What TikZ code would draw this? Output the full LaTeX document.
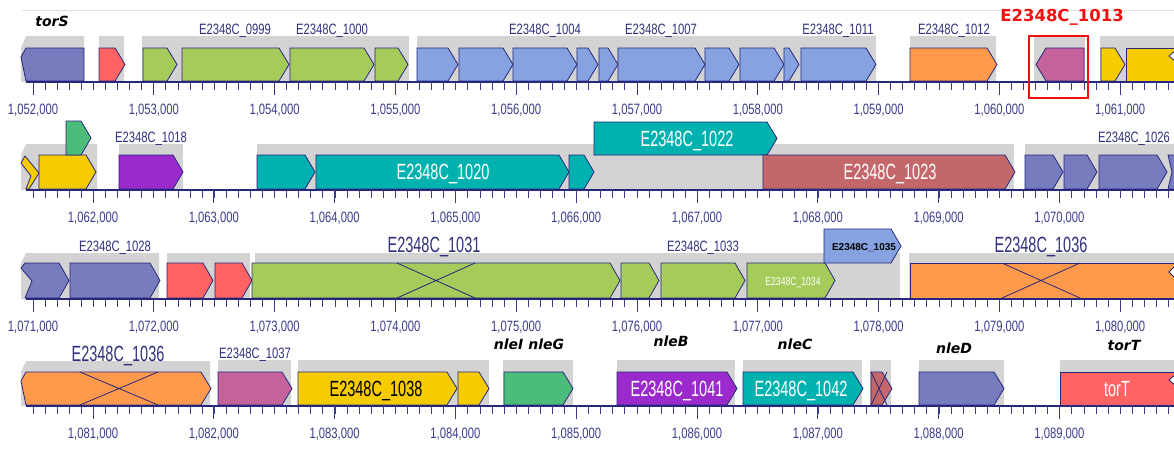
\documentclass[tikz,border=0pt]{standalone}
\usepackage{fontspec}
\setmainfont{Liberation Sans}
\newfontfamily\narrowsf[FakeStretch=0.75]{Liberation Sans}
\newfontfamily\condsf[FakeStretch=0.66]{Liberation Sans}
\newfontfamily\tagsf{DejaVu Sans}

\definecolor{navy}{HTML}{26267A}
\definecolor{labelblue}{HTML}{30307E}
\definecolor{tickblue}{HTML}{3B3B8C}
\definecolor{bandgray}{HTML}{D3D3D3}
\definecolor{slate}{HTML}{777CBE}
\definecolor{redg}{HTML}{FF6262}
\definecolor{lgreen}{HTML}{A5CB5A}
\definecolor{cblue}{HTML}{86A2E0}
\definecolor{orangeg}{HTML}{FF9A4C}
\definecolor{mauve}{HTML}{C4629B}
\definecolor{yellowg}{HTML}{F6CB00}
\definecolor{mgreen}{HTML}{4CBC7B}
\definecolor{purpleg}{HTML}{9A2ACB}
\definecolor{tealg}{HTML}{00B2AF}
\definecolor{brick}{HTML}{C3676A}
\definecolor{hired}{HTML}{F01010}

\newcommand{\fgene}[5]{\draw[gene,fill=#1] (#2,#4) -- ({#3-10},#4) -- (#3,{(#4+#5)/2}) -- ({#3-10},#5) -- (#2,#5) -- cycle;}
\newcommand{\rgene}[5]{\draw[gene,fill=#1] (#3,#4) -- ({#2+10},#4) -- (#2,{(#4+#5)/2}) -- ({#2+10},#5) -- (#3,#5) -- cycle;}
\newcommand{\grayband}[3]{\fill[bandgray] (#1,#3-46) rectangle (#2,#3);}
\newcommand{\crossmark}[4]{\draw[crossline] (#1,#3) -- (#2,#4) (#1,#4) -- (#2,#3);}
\newcommand{\scaleline}[4]{%
  \draw[axisline] (26,#1) -- (1174,#1);
  \foreach \k in {0,...,94} {\draw[tickmark] ({33+12.08*\k},#1) -- ++(0,8);}
  \foreach \j in {0,...,#4} {
    \pgfmathsetmacro\tx{#3+120.8*\j}
    \pgfmathtruncatemacro\kb{#2+\j}
    \draw[tickmark] (\tx,#1) -- ++(0,13);
    \node[numlabel] (n\kb) at (\tx,#1+32) {1,0\kb,000};
  }
}

\begin{document}
\begin{tikzpicture}[
  x=1pt, y=-1pt,
  gene/.style={draw=navy, line width=0.8pt},
  axisline/.style={draw=navy, line width=2.4pt},
  tickmark/.style={draw=tickblue, line width=0.9pt},
  crossline/.style={draw=navy, line width=0.8pt},
  numlabel/.style={font=\narrowsf\fontsize{15}{15}\selectfont, text=tickblue, inner sep=0pt, anchor=base},
  locus/.style={font=\narrowsf\fontsize{15}{15}\selectfont, text=labelblue, inner sep=0pt, anchor=base},
  biglocus/.style={font=\condsf\fontsize{22}{22}\selectfont, inner sep=0pt, anchor=base},
  tinylocus/.style={font=\narrowsf\fontsize{11.5}{11.5}\selectfont, inner sep=0pt, anchor=base},
  genetag/.style={font=\tagsf\bfseries\itshape\fontsize{14}{14}\selectfont, inner sep=0pt, anchor=base}
]
\useasboundingbox (0,0) rectangle (1174,448);
\draw[gray!25, line width=1pt] (22,10) -- (1174,10);

% row 1
\fill[bandgray] (21,48) -- (26,36) -- (84,36) -- (84,82) -- (21,82) -- cycle;
\foreach \a/\b in {99/124,142/409,417/876,910/996,1034/1085,1100/1174} {\grayband{\a}{\b}{82}}
\draw[gene,fill=slate] (26,48) -- (84,48) -- (84,81) -- (26,81) -- (21,57) -- cycle;
\fgene{redg}{99}{125}{48}{81}
\foreach \a/\b in {143/177,182/289,290/374,375/408} {\fgene{lgreen}{\a}{\b}{48}{81}}
\foreach \a/\b in {417/458,459/513,513/577,577/598,599/618,618/705,705/739,740/784,784/799,801/876} {\fgene{cblue}{\a}{\b}{48}{81}}
\fgene{orangeg}{910}{997}{48}{81}
\rgene{mauve}{1036}{1084}{48}{81}
\fgene{yellowg}{1101}{1125}{48}{81}
\draw[gene,fill=yellowg] (1126,48) -- (1176,48) -- (1176,81) -- (1126,81) -- cycle;
\draw[gene,fill=white] (1176,50) -- (1169,56) -- (1176,62);
\scaleline{82}{52}{33}{9}
\node[genetag] (torS) at (52,26) {torS};
\node[locus] (l0999) at (235,34) {E2348C\_0999};
\node[locus] (l1000) at (332,34) {E2348C\_1000};
\node[locus] (l1004) at (545,34) {E2348C\_1004};
\node[locus] (l1007) at (661,34) {E2348C\_1007};
\node[locus] (l1011) at (838,34) {E2348C\_1011};
\node[locus] (l1012) at (954,34) {E2348C\_1012};
\node[font=\tagsf\bfseries\fontsize{16.5}{16.5}\selectfont, text=hired, inner sep=0pt, anchor=base] (l1013) at (1062,21.5) {E2348C\_1013};
\draw[hired, line width=2pt] (1029,36) rectangle (1088,98);

% row 2
\fill[bandgray] (21,155) -- (26,144) -- (97,144) -- (97,190) -- (21,190) -- cycle;
\foreach \a/\b in {119/183,257/1014,1025/1174} {\grayband{\a}{\b}{190}}
\draw[gene,fill=yellowg] (21,163) -- (25,156) -- (39,173) -- (29,189) -- (26,189) -- (31,176) -- cycle;
\fgene{yellowg}{39}{96}{155}{189}
\fgene{mgreen}{66}{91}{121}{155}
\fgene{purpleg}{119}{183}{155}{189}
\foreach \a/\b in {257/315,316/569,569/594} {\fgene{tealg}{\a}{\b}{155}{189}}
\fgene{tealg}{594}{777}{122}{155}
\fgene{brick}{763}{1015}{155}{189}
\foreach \a/\b in {1025/1063,1064/1097,1099/1167} {\fgene{slate}{\a}{\b}{155}{189}}
\draw[gene,fill=slate] (1168,155) -- (1176,155) -- (1176,189) -- (1168,189) -- (1172,172) -- cycle;
\scaleline{190}{62}{93}{8}
\node[locus] (l1018) at (151,142) {E2348C\_1018};
\node[locus] (l1026) at (1134,142) {E2348C\_1026};
\node[biglocus, text=white] (l1020) at (443,179.5) {E2348C\_1020};
\node[biglocus, text=white] (l1022) at (687,146) {E2348C\_1022};
\node[biglocus, text=white] (l1023) at (890,179.5) {E2348C\_1023};

% row 3
\fill[bandgray] (21,263) -- (26,253) -- (159,253) -- (159,299) -- (21,299) -- cycle;
\foreach \a/\b in {167/250,255/900,909/1174} {\grayband{\a}{\b}{299}}
\draw[gene,fill=slate] (25,263) -- (59,263) -- (69,280.5) -- (59,298) -- (25,298) -- (32,281) -- (21,268) -- cycle;
\fgene{slate}{70}{160}{263}{298}
\foreach \a/\b in {167/213,215/252} {\fgene{redg}{\a}{\b}{263}{298}}
\foreach \a/\b in {252/620,621/659,661/745,747/835} {\fgene{lgreen}{\a}{\b}{263}{298}}
\crossmark{397}{475}{263}{298}
\fgene{cblue}{824}{901}{229}{263}
\draw[gene,fill=orangeg] (910,263) -- (1176,263) -- (1176,298) -- (910,298) -- cycle;
\draw[gene,fill=white] (1176,265) -- (1169,272) -- (1176,279);
\crossmark{1002}{1080}{263}{298}
\scaleline{299}{71}{33}{9}
\node[locus] (l1028) at (115,251) {E2348C\_1028};
\node[locus] (l1033) at (703,251) {E2348C\_1033};
\node[biglocus, text=labelblue] (l1031) at (434,252) {E2348C\_1031};
\node[biglocus, text=labelblue] (l1036a) at (1041,252) {E2348C\_1036};
\node[tinylocus, text=white] (l1034) at (793,285) {E2348C\_1034};
\node[tinylocus, text=black, font=\bfseries] (l1035) at (864,250) {E2348C\_1035};

% row 4
\fill[bandgray] (21,372) -- (26,361) -- (210,361) -- (210,406) -- (21,406) -- cycle;
\foreach \a/\b in {218/291,298/489,503/573,617/735,743/862,870/891,919/1004,1060/1174} {\grayband{\a}{\b}{406}}
\draw[gene,fill=orangeg] (26,372) -- (201,372) -- (211,388.5) -- (201,405) -- (26,405) -- (21,381) -- cycle;
\crossmark{80}{158}{372}{405}
\fgene{mauve}{218}{292}{372}{405}
\foreach \a/\b in {298/457,458/489} {\fgene{yellowg}{\a}{\b}{372}{405}}
\fgene{mgreen}{504}{573}{372}{405}
\fgene{purpleg}{617}{737}{372}{405}
\fgene{tealg}{743}{863}{372}{405}
\fgene{brick}{871}{892}{372}{405}
\crossmark{871}{887}{372}{405}
\fgene{slate}{919}{1004}{372}{405}
\draw[gene,fill=redg] (1060,372) -- (1176,372) -- (1176,405) -- (1060,405) -- cycle;
\draw[gene,fill=white] (1176,374) -- (1169,380) -- (1176,386);
\scaleline{406}{81}{93}{8}
\node[biglocus, text=labelblue] (l1036b) at (118,361) {E2348C\_1036};
\node[locus] (l1037) at (255,358) {E2348C\_1037};
\node[biglocus, text=black] (l1038) at (376,396) {E2348C\_1038};
\node[biglocus, text=white] (l1041) at (677,396) {E2348C\_1041};
\node[biglocus, text=white] (l1042) at (801,396) {E2348C\_1042};
\node[biglocus, text=white] (torTin) at (1117,396) {torT};
\node[genetag] (nleIG) at (529,349) {nleI nleG};
\node[genetag] (nleB) at (671,346) {nleB};
\node[genetag] (nleC) at (795,349) {nleC};
\node[genetag] (nleD) at (954,353) {nleD};
\node[genetag] (torT) at (1124,350) {torT};
\end{tikzpicture}
\end{document}
